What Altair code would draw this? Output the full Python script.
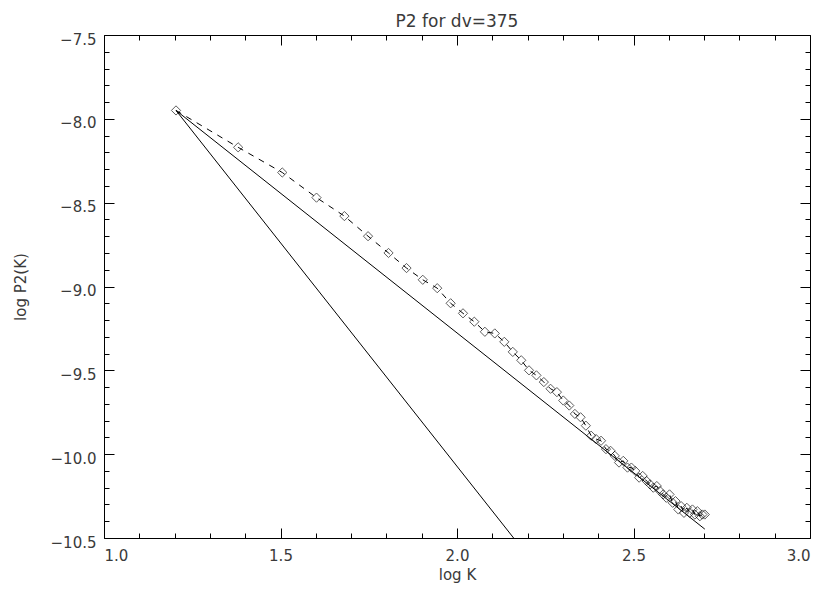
import altair as alt
import pandas as pd

# ---- data ----
log_k = [1.204, 1.380, 1.505, 1.602, 1.681, 1.748, 1.806, 1.857, 1.903, 1.944,
         1.982, 2.017, 2.049, 2.079, 2.107, 2.134, 2.158, 2.182, 2.204, 2.225,
         2.246, 2.265, 2.283, 2.301, 2.318, 2.334, 2.350, 2.365, 2.380, 2.394,
         2.408, 2.422, 2.435, 2.447, 2.459, 2.471, 2.483, 2.494, 2.505, 2.516,
         2.526, 2.537, 2.547, 2.556, 2.566, 2.575, 2.584, 2.593, 2.602, 2.611,
         2.619, 2.627, 2.635, 2.643, 2.651, 2.659, 2.667, 2.674, 2.681, 2.688,
         2.695, 2.702]
log_p2 = [-7.95, -8.17, -8.32, -8.47, -8.58, -8.70, -8.80, -8.89, -8.96, -9.01,
          -9.10, -9.16, -9.21, -9.27, -9.28, -9.33, -9.39, -9.44, -9.50, -9.53,
          -9.57, -9.61, -9.63, -9.68, -9.71, -9.76, -9.78, -9.83, -9.89, -9.91,
          -9.92, -9.97, -9.98, -10.01, -10.05, -10.04, -10.08, -10.08, -10.10, -10.14,
          -10.13, -10.16, -10.18, -10.20, -10.19, -10.22, -10.24, -10.26, -10.24, -10.29,
          -10.28, -10.33, -10.31, -10.35, -10.32, -10.35, -10.33, -10.36, -10.34, -10.37,
          -10.36, -10.36]

fit_x = [1.204, 2.702]
fit_shallow_y = [-7.95, -10.447]
fit_steep_y = [-7.95, -11.944]

x_major = [1.0, 1.5, 2.0, 2.5, 3.0]
x_minor = [1.1, 1.2, 1.3, 1.4, 1.6, 1.7, 1.8, 1.9, 2.1, 2.2, 2.3, 2.4,
           2.6, 2.7, 2.8, 2.9]
y_major = [-10.5, -10.0, -9.5, -9.0, -8.5, -8.0, -7.5]
y_minor = [-10.4, -10.3, -10.2, -10.1, -9.9, -9.8, -9.7, -9.6, -9.4, -9.3,
           -9.2, -9.1, -8.9, -8.8, -8.7, -8.6, -8.4, -8.3, -8.2, -8.1,
           -7.9, -7.8, -7.7, -7.6]

W, H = 706, 503
FONT = "DejaVu Sans"
TXT = "#3a3a3a"

pts = pd.DataFrame({"x": log_k, "y": log_p2})
fits = pd.DataFrame({
    "x": fit_x + fit_x,
    "y": fit_shallow_y + fit_steep_y,
    "fit": ["shallow", "shallow", "steep", "steep"],
})


def xsc():
    return alt.Scale(domain=[1.0, 3.0], nice=False, zero=False)


def ysc():
    return alt.Scale(domain=[-10.5, -7.5], nice=False, zero=False)


main_x_axis = alt.Axis(values=x_major, format=".1f", ticks=False, grid=False,
                       domain=True, domainColor="#000", domainWidth=1,
                       labelFont=FONT, labelFontSize=15, labelColor=TXT,
                       labelPadding=10, titleFont=FONT, titleFontSize=15,
                       titleColor=TXT, titleFontWeight="normal", titlePadding=4)
main_y_axis = alt.Axis(values=y_major, format=".1f", ticks=False, grid=False,
                       domain=True, domainColor="#000", domainWidth=1,
                       labelFont=FONT, labelFontSize=15, labelColor=TXT,
                       labelPadding=8, labelOffset=4,
                       titleFont=FONT, titleFontSize=15,
                       titleColor=TXT, titleFontWeight="normal", titlePadding=22)

dashed = alt.Chart(pts).mark_line(color="black", strokeWidth=1,
                                  strokeDash=[6, 6]).encode(
    x=alt.X("x:Q", scale=xsc(), axis=main_x_axis, title="log K"),
    y=alt.Y("y:Q", scale=ysc(), axis=main_y_axis, title="log P2(K)"),
)
points = alt.Chart(pts).mark_point(shape="diamond", size=85, filled=False,
                                   color="black", strokeWidth=0.9).encode(
    x="x:Q", y="y:Q")
fit_lines = alt.Chart(fits).mark_line(color="black", strokeWidth=1,
                                      clip=True).encode(
    x="x:Q", y="y:Q", detail="fit:N")

data_layer = alt.layer(dashed, points, fit_lines)


def tick_layer(xvals, yvals, size, x_orient, x_off, y_orient, y_off, domain):
    xa = alt.Axis(values=xvals, orient=x_orient, offset=x_off, labels=False,
                  ticks=True, tickSize=size, tickColor="#000", tickWidth=1,
                  grid=False, domain=domain, domainColor="#000", domainWidth=1,
                  title=None)
    ya = alt.Axis(values=yvals, orient=y_orient, offset=y_off, labels=False,
                  ticks=True, tickSize=size, tickColor="#000", tickWidth=1,
                  grid=False, domain=domain, domainColor="#000", domainWidth=1,
                  title=None)
    return alt.Chart(pts).mark_point(opacity=0).encode(
        x=alt.X("x:Q", scale=xsc(), axis=xa),
        y=alt.Y("y:Q", scale=ysc(), axis=ya),
    )


# inward ticks on bottom/left (axes flipped to the opposite side)
t1 = tick_layer(x_major, y_major, 10, "top", -H, "right", -W, False)
t2 = tick_layer(x_minor, y_minor, 5, "top", -H, "right", -W, False)
# inward ticks on top/right with frame lines
t3 = tick_layer(x_major, y_major, 10, "bottom", -H, "left", -W, True)
t4 = tick_layer(x_minor, y_minor, 5, "bottom", -H, "left", -W, False)

chart = alt.layer(data_layer, t1, t2, t3, t4).resolve_scale(
    x="independent", y="independent"
).properties(
    width=W,
    height=H,
    title=alt.TitleParams("P2 for dv=375", font=FONT, fontSize=17,
                          fontWeight="normal", color=TXT, offset=1),
    autosize=alt.AutoSizeParams(type="none"),
    padding={"left": 96, "top": 27, "right": 12, "bottom": 55},
).configure_view(stroke=None).configure(background="white")

chart.save("out.html", embed_options={"renderer": "svg", "actions": False})
